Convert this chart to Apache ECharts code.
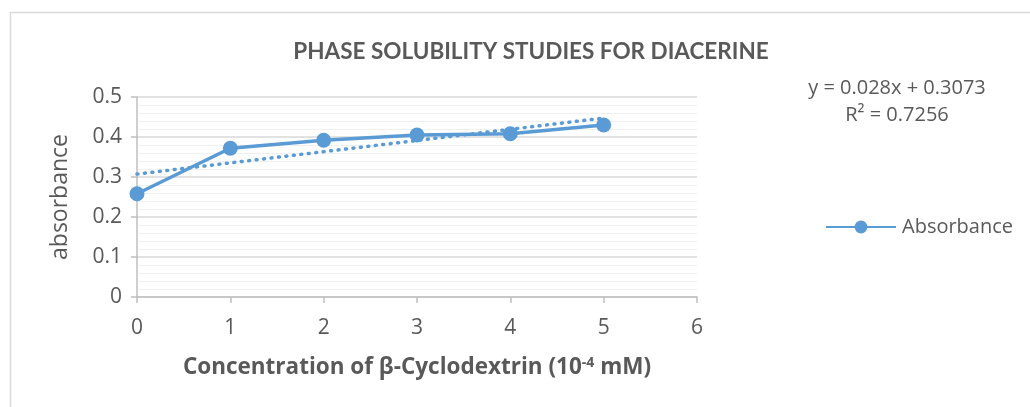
<!DOCTYPE html>
<html>
<head>
<meta charset="utf-8">
<script src="https://cdn.jsdelivr.net/npm/echarts@6/dist/echarts.min.js"></script>
<style>
  html, body { margin: 0; padding: 0; background: #fff; }
  #chart { width: 1030px; height: 407px; }
</style>
</head>
<body>
<div id="chart"></div>
<script>
  // concentration of beta-cyclodextrin (10^-4 mM)
  var concentration = [0, 1, 2, 3, 4, 5];
  // measured absorbance
  var absorbance = [0.258, 0.372, 0.392, 0.405, 0.408, 0.430];
  // linear trendline ends, y = 0.028x + 0.3073
  var trendX = [0, 5];
  var trendY = [0.3073, 0.4473];
  var trendText = ['y = 0.028x + 0.3073', 'R\u00b2 = 0.7256'];

  var blue = '#5b9bd5';
  var grey = '#595959';
  var font = '"Open Sans", sans-serif';

  var myChart = echarts.init(document.getElementById('chart'));
  var option = {
    animation: false,
    title: {
      text: 'PHASE SOLUBILITY STUDIES FOR DIACERINE',
      left: 526,
      top: 35,
      textAlign: 'center',
      textStyle: { color: grey, fontSize: 22.5, fontWeight: 'bold', fontFamily: 'Lato, sans-serif' }
    },
    legend: {
      data: ['Absorbance'],
      left: 820,
      top: 212,
      itemWidth: 70,
      itemHeight: 16,
      itemGap: 10,
      textStyle: { color: grey, fontSize: 20, fontFamily: font, padding: [0, 0, 0, 1] }
    },
    graphic: [
      {
        type: 'rect',
        shape: { x: 10.5, y: 12.5, width: 1040, height: 420 },
        style: { fill: 'none', stroke: '#d9d9d9', lineWidth: 1.5 },
        silent: true
      },
      {
        type: 'text',
        x: 897,
        y: 75,
        style: {
          text: trendText.join('\n'),
          align: 'center',
          fill: grey,
          font: '20px ' + font,
          lineHeight: 27
        }
      }
    ],
    grid: { left: 137, right: 333, top: 97, bottom: 110 },
    xAxis: {
      type: 'value',
      min: 0,
      max: 6,
      interval: 1,
      name: 'Concentration of \u03b2-Cyclodextrin (10{sup|-4} mM)',
      nameLocation: 'middle',
      nameGap: 59,
      nameTextStyle: {
        color: grey, fontSize: 22.5, fontWeight: 'bold', fontFamily: font,
        rich: { sup: { fontSize: 14, fontWeight: 'bold', fontFamily: font, verticalAlign: 'top', color: grey, padding: [0, 0, 9, 0] } }
      },
      axisLine: { lineStyle: { color: '#bfbfbf', width: 1.5 } },
      axisTick: { show: true, length: 6, lineStyle: { color: '#bfbfbf', width: 1.5 } },
      axisLabel: { color: grey, fontSize: 21, fontFamily: font, margin: 21 },
      splitLine: { show: false }
    },
    yAxis: {
      type: 'value',
      min: 0,
      max: 0.5,
      interval: 0.1,
      name: 'absorbance',
      nameLocation: 'middle',
      nameGap: 65,
      nameTextStyle: { color: grey, fontSize: 23, fontFamily: font },
      axisLine: { show: true, lineStyle: { color: '#bfbfbf', width: 1.5 } },
      axisTick: { show: true, length: 6, lineStyle: { color: '#bfbfbf', width: 1.5 } },
      axisLabel: {
        color: grey, fontSize: 21, fontFamily: font, margin: 15,
        formatter: function (v) { return String(+v.toFixed(1)); }
      },
      splitLine: { show: true, lineStyle: { color: '#d9d9d9', width: 1.5 } },
      minorTick: { show: false, splitNumber: 5 },
      minorSplitLine: { show: true, lineStyle: { color: '#f0f0f0', width: 1 } }
    },
    series: [
      {
        name: 'Absorbance',
        type: 'line',
        data: concentration.map(function (x, i) { return [x, absorbance[i]]; }),
        symbol: 'circle',
        symbolSize: 15,
        lineStyle: { color: blue, width: 3.5 },
        itemStyle: { color: blue },
        z: 3
      },
      {
        name: 'Trend',
        type: 'line',
        data: trendX.map(function (x, i) { return [x, trendY[i]]; }),
        symbol: 'none',
        lineStyle: { color: blue, width: 3.5, type: [1, 6.5], cap: 'round' },
        z: 2
      }
    ]
  };
  myChart.setOption(option);
</script>
</body>
</html>
